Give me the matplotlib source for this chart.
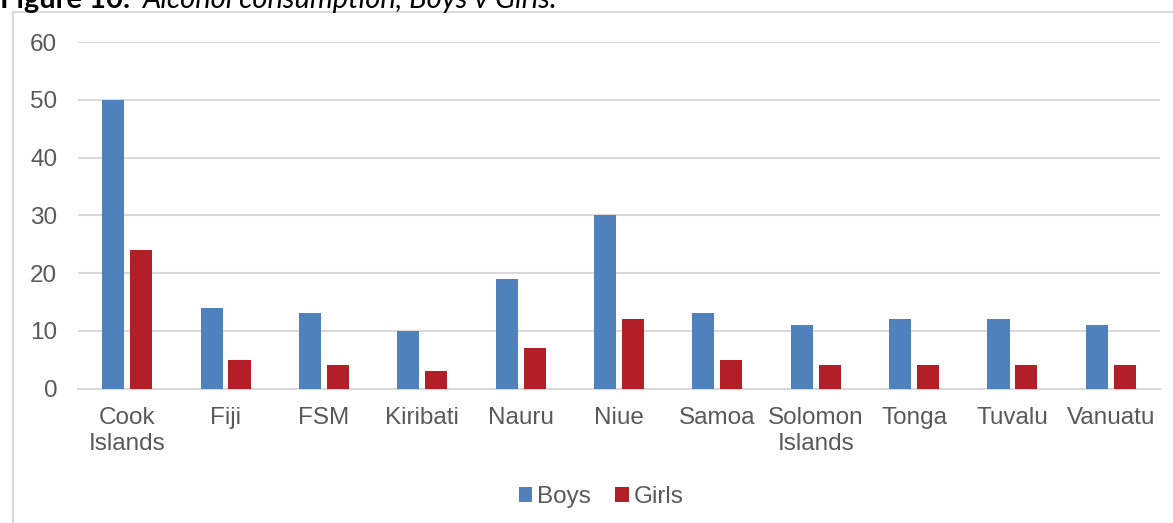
import numpy as np
import matplotlib.pyplot as plt
from matplotlib import font_manager as fm
from matplotlib.patches import Rectangle

# === DADOS ===
paises = ['Cook\nIslands', 'Fiji', 'FSM', 'Kiribati', 'Nauru', 'Niue', 'Samoa',
          'Solomon\nIslands', 'Tonga', 'Tuvalu', 'Vanuatu']
meninos = [50, 14, 13, 10, 19, 30, 13, 11, 12, 12, 11]
meninas = [24, 5, 4, 3, 7, 12, 5, 4, 4, 4, 4]
y_ticks = [0, 10, 20, 30, 40, 50, 60]

W, H = 1173, 523
cinza_txt = '#595959'
cinza_grid = '#d9d9d9'

# Liberation Sans normal (evita cair na versão Narrow)
arq = [f for f in fm.findSystemFonts() if f.endswith('LiberationSans-Regular.ttf')]
if arq:
    fonte = fm.FontProperties(fname=arq[0], size=17.5)
else:
    fonte = fm.FontProperties(family='DejaVu Sans', size=16)

fig = plt.figure(figsize=(W / 100, H / 100), dpi=100)
ax = fig.add_axes([78 / W, 1 - 388.5 / H, (1160 - 78) / W, (388.5 - 42.3) / H])

x = np.arange(len(paises))
larg = 0.224
sep = 0.06
ax.bar(x - (larg + sep) / 2, meninos, larg, color='#4f81bd', label='Boys', zorder=3)
ax.bar(x + (larg + sep) / 2, meninas, larg, color='#b21f27', label='Girls', zorder=3)

ax.set_xlim(-0.5, len(paises) - 0.5)
ax.set_ylim(0, 60)
ax.set_yticks(y_ticks)
ax.set_yticklabels([str(v) for v in y_ticks], fontproperties=fonte, color=cinza_txt)
ax.set_xticks(x)
ax.set_xticklabels(paises, fontproperties=fonte, color=cinza_txt, linespacing=1.25)
ax.grid(axis='y', color=cinza_grid, linewidth=1.5, zorder=0)
for s in ['top', 'right', 'left']:
    ax.spines[s].set_visible(False)
ax.spines['bottom'].set_color(cinza_grid)
ax.spines['bottom'].set_linewidth(1.5)
ax.tick_params(axis='both', length=0)
ax.tick_params(axis='y', pad=15)
ax.tick_params(axis='x', pad=13)

leg = fig.legend(loc='center', bbox_to_anchor=(601 / W, 1 - 497 / H), ncol=2,
                 frameon=False, prop=fonte, handlelength=0.55, handleheight=0.55,
                 handletextpad=0.2, columnspacing=1.0, labelcolor=cinza_txt)

# moldura do gráfico (cortada à direita e embaixo)
fig.patches.append(Rectangle((12.5 / W, -0.1), 1.2, 1 - 12.5 / H + 0.1,
                             transform=fig.transFigure, fill=False,
                             edgecolor=cinza_grid, linewidth=1.5))

# legenda da figura cortada no topo
t1 = fig.text(0, 1 - 8 / H, 'Figure 10:', fontsize=21, fontweight='bold',
              family=['Lato', 'DejaVu Sans'], va='baseline', ha='left')
t2 = fig.text(143 / W, 1 - 8 / H, 'Alcohol consumption, Boys v Girls.', fontsize=21,
              style='italic', family=['Lato', 'DejaVu Sans'], va='baseline', ha='left')

plt.savefig('out.png', dpi=100)
